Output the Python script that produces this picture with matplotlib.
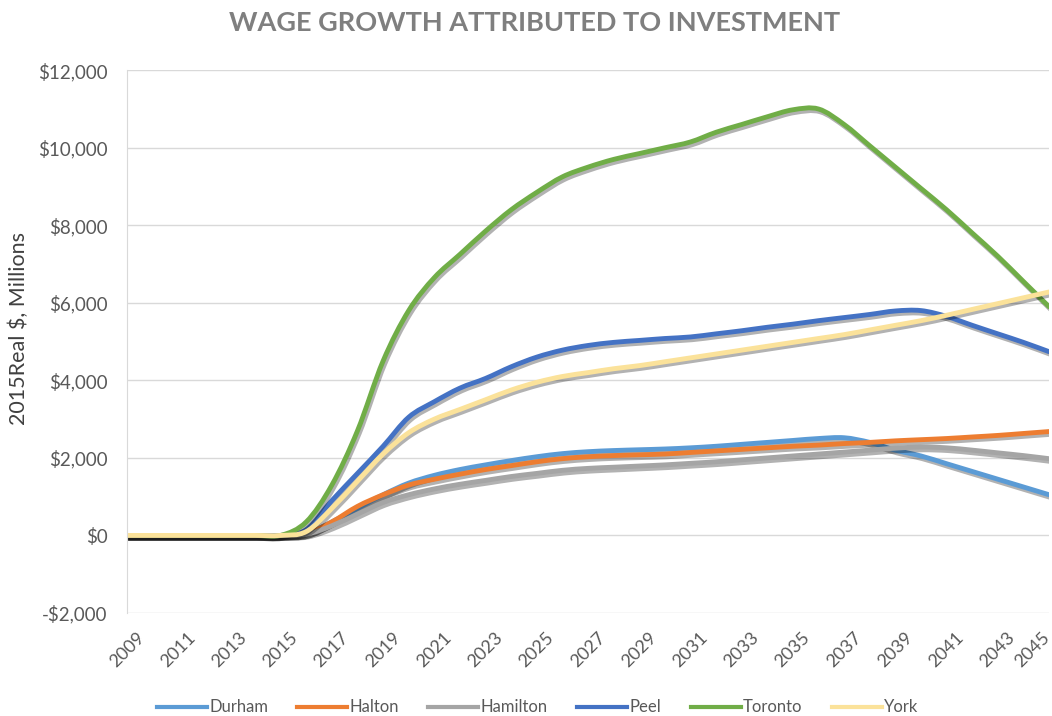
import matplotlib
matplotlib.use("Agg")
import matplotlib.pyplot as plt
import matplotlib.patheffects as pe
from matplotlib.path import Path
from matplotlib.patches import PathPatch
from matplotlib.lines import Line2D
from matplotlib.ticker import FuncFormatter
from matplotlib.transforms import ScaledTranslation

plt.rcParams['font.family'] = ['Lato', 'DejaVu Sans']

years = list(range(2009, 2046))

# values in 2015 real $ millions
durham = [0, 0, 0, 0, 0, 0, 0, 50, 350, 700, 1050, 1350, 1550, 1700, 1820, 1930,
          2030, 2110, 2160, 2190, 2210, 2230, 2260, 2300, 2350, 2400, 2450, 2500,
          2520, 2400, 2200, 2050, 1850, 1650, 1450, 1250, 1050]
halton = [0, 0, 0, 0, 0, 0, 0, 50, 350, 750, 1050, 1300, 1450, 1580, 1700, 1800,
          1900, 1980, 2030, 2060, 2080, 2100, 2140, 2180, 2220, 2260, 2300, 2330,
          2370, 2400, 2440, 2470, 2500, 2540, 2580, 2630, 2680]
hamilton = [0, 0, 0, 0, 0, 0, 0, 30, 250, 550, 850, 1050, 1200, 1320, 1420, 1520,
            1600, 1680, 1730, 1760, 1790, 1820, 1860, 1900, 1950, 2000, 2050, 2100,
            2150, 2200, 2250, 2280, 2260, 2200, 2130, 2060, 1980]
peel = [0, 0, 0, 0, 0, 0, 0, 150, 900, 1600, 2300, 3050, 3450, 3800, 4050, 4350,
        4600, 4780, 4900, 4980, 5030, 5080, 5120, 5200, 5280, 5370, 5450, 5540,
        5620, 5700, 5790, 5800, 5650, 5420, 5200, 4980, 4740]
toronto = [0, 0, 0, 0, 0, 0, 0, 350, 1300, 2700, 4500, 5800, 6650, 7250, 7850, 8400,
           8850, 9250, 9500, 9700, 9850, 10000, 10150, 10400, 10600, 10800, 10980, 11000,
           10600, 10050, 9500, 8950, 8400, 7800, 7200, 6550, 5900]
york = [0, 0, 0, 0, 0, 0, 0, 100, 700, 1400, 2100, 2650, 3000, 3250, 3500, 3750,
        3950, 4100, 4200, 4300, 4380, 4480, 4580, 4680, 4780, 4880, 4980, 5080,
        5180, 5300, 5420, 5540, 5680, 5830, 5980, 6130, 6280]

names = ["Durham", "Halton", "Hamilton", "Peel", "Toronto", "York"]
colors = ["#5b9bd5", "#ed7d31", "#a5a5a5", "#4472c4", "#70ad47", "#fbe29a"]
series = [durham, halton, hamilton, peel, toronto, york]


def smooth_path(xs, ys):
    # excel-style smoothed line: bezier segments between the data points
    pts = list(zip(xs, ys))
    verts = [pts[0]]
    codes = [Path.MOVETO]
    n = len(pts)
    for i in range(n - 1):
        p0 = pts[max(i - 1, 0)]
        p1 = pts[i]
        p2 = pts[i + 1]
        p3 = pts[min(i + 2, n - 1)]
        c1 = (p1[0] + (p2[0] - p0[0]) / 6, p1[1] + (p2[1] - p0[1]) / 6)
        c2 = (p2[0] - (p3[0] - p1[0]) / 6, p2[1] - (p3[1] - p1[1]) / 6)
        verts += [c1, c2, p2]
        codes += [Path.CURVE4] * 3
    return Path(verts, codes)


fig = plt.figure(figsize=(10.52, 7.16), dpi=100)
ax = fig.add_axes([0.1207, 0.1439, 0.8765, 0.758])

shadow = [pe.SimpleLineShadow(offset=(1.2, -2), shadow_color='black', alpha=0.3),
          pe.Normal()]
handles = []
for name, vals, col in zip(names, series, colors):
    patch = PathPatch(smooth_path(years, vals), fill=False, edgecolor=col, lw=3.5,
                      capstyle='round', joinstyle='round', path_effects=shadow)
    ax.add_patch(patch)
    handles.append(Line2D([], [], color=col, lw=3, label=name))

ax.set_xlim(2009, 2045)
ax.set_ylim(-2000, 12000)
ax.set_xticks(range(2009, 2046, 2))
ax.set_yticks(range(-2000, 12001, 2000))
ax.yaxis.set_major_formatter(FuncFormatter(
    lambda v, p: f"${v:,.0f}" if v >= 0 else f"-${-v:,.0f}"))
ax.tick_params(axis='y', length=0, labelsize=13.5, colors='#595959', pad=14)
ax.tick_params(axis='x', length=0, labelsize=13, colors='#595959', pad=12)
plt.setp(ax.get_xticklabels(), rotation=45, ha='center')
# last year label sits a bit inward, as in the original
last = ax.xaxis.get_major_ticks()[-1].label1
last.set_transform(last.get_transform() + ScaledTranslation(-17 / 100, 0, fig.dpi_scale_trans))
ax.grid(axis='y', color='#d9d9d9', lw=1)
ax.set_axisbelow(True)
for s in ['top', 'right', 'bottom']:
    ax.spines[s].set_visible(False)
ax.spines['left'].set_color('#d9d9d9')

ax.set_ylabel("2015Real $, Millions", fontsize=15.5, color='#404040')
ax.yaxis.set_label_coords(-0.106, 0.525)
fig.text(0.508, 0.968, "WAGE GROWTH ATTRIBUTED TO INVESTMENT", ha='center', va='center',
         fontsize=19.5, fontweight='bold', color='#7f7f7f')

leg = fig.legend(handles=handles, loc='center', bbox_to_anchor=(0.511, 0.012), ncol=6,
                 frameon=False, fontsize=12, handlelength=3.0, columnspacing=1.75,
                 handletextpad=0.15)
for t in leg.get_texts():
    t.set_color('#595959')

fig.savefig("out.png", dpi=100)
